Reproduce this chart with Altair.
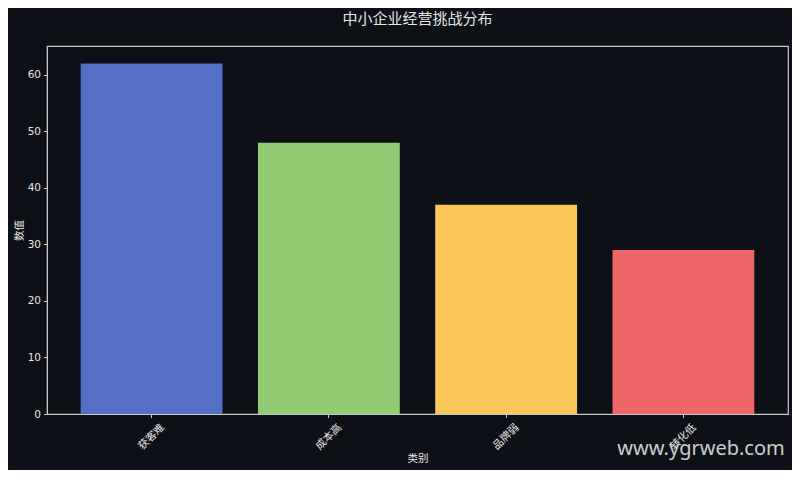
import altair as alt
import pandas as pd

categories = ["获客难", "成本高", "品牌弱", "转化低"]
values = [62, 48, 37, 29]
colors = ["#5470c6", "#91cc75", "#fac858", "#ee6666"]

df = pd.DataFrame({"类别": categories, "数值": values})

FONT = "DejaVu Sans, Noto Sans CJK SC, sans-serif"
TXT = "#e6e6e6"
LINE = "#c8c8c8"

bars = alt.Chart(df).mark_bar().encode(
    x=alt.X("类别:N", sort=categories,
            scale=alt.Scale(paddingInner=0.2, paddingOuter=0.19),
            axis=alt.Axis(title="类别", labelAngle=315, labelAlign="center",
                          labelBaseline="middle", labelPadding=19, tickSize=3.5,
                          titlePadding=2)),
    y=alt.Y("数值:Q", scale=alt.Scale(domain=[0, 65.1], nice=False),
            axis=alt.Axis(title="数值", values=[0, 10, 20, 30, 40, 50, 60],
                          tickSize=3.5, labelPadding=3, titlePadding=3)),
    color=alt.Color("类别:N", sort=categories,
                    scale=alt.Scale(domain=categories, range=colors), legend=None),
)

watermark = alt.Chart(pd.DataFrame({"t": ["www.ygrweb.com"]})).mark_text(
    font="Noto Sans", fontSize=20, color="#e0e0e0", opacity=0.9, align="center",
    baseline="middle"
).encode(text="t:N", x=alt.value(654), y=alt.value(403))

chart = alt.layer(bars, watermark).properties(
    width=741, height=368,
    title=alt.TitleParams("中小企业经营挑战分布", fontSize=15, color=TXT, font=FONT,
                          fontWeight="normal", anchor="middle", offset=19),
    autosize=alt.AutoSizeParams(type="none"),
    padding={"left": 39, "top": 38, "right": 4, "bottom": 56},
).configure(background="#0d1117").configure_view(
    stroke=LINE, strokeWidth=1.2
).configure_axis(
    labelColor=TXT, titleColor=TXT, labelFont=FONT, titleFont=FONT,
    labelFontSize=10.5, titleFontSize=10.5, titleFontWeight="normal",
    domainColor=LINE, tickColor=LINE, grid=False
)

chart.save("out.html", embed_options={"renderer": "svg", "actions": False})
